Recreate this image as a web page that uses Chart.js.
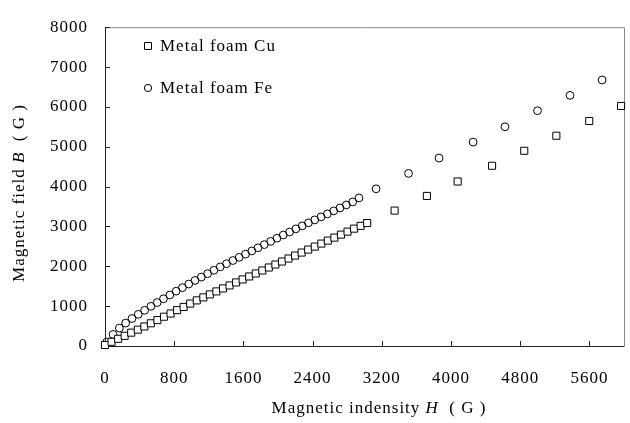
<!DOCTYPE html>
<html>
<head>
<meta charset="utf-8">
<script src="https://cdn.jsdelivr.net/npm/chart.js@4.4.0/dist/chart.umd.min.js"></script>
<style>
html,body{margin:0;padding:0;background:#fff;}
#wrap{width:630px;height:423px;}
</style>
</head>
<body>
<div id="wrap"><canvas id="c" width="630" height="423"></canvas></div>
<script>
// ---- data ----
const xTickValues = [0, 800, 1600, 2400, 3200, 4000, 4800, 5600];
const yTickValues = [0, 1000, 2000, 3000, 4000, 5000, 6000, 7000, 8000];
const seriesNames = ["Metal foam Cu", "Metal foam Fe"];

const cuH = [0, 76, 152, 227, 303, 379, 455, 530, 606, 682, 758, 834, 909, 985, 1061, 1137, 1212, 1288, 1364, 1440,
  1516, 1591, 1667, 1743, 1819, 1894, 1970, 2046, 2122, 2198, 2273, 2349, 2425, 2501, 2576, 2652, 2728, 2804, 2880, 2955, 3031,
  3348, 3721, 4077, 4475, 4847, 5218, 5598, 5966];
const cuB = [25, 105, 180, 255, 335, 410, 490, 570, 650, 735, 815, 900, 980, 1065, 1145, 1220, 1295, 1370, 1445, 1520,
  1595, 1670, 1745, 1820, 1895, 1970, 2045, 2120, 2195, 2270, 2345, 2420, 2495, 2570, 2645, 2720, 2795, 2870, 2945, 3015, 3085,
  3398, 3766, 4128, 4523, 4899, 5277, 5646, 6024];

const feH = [20, 93, 166, 239, 312, 385, 458, 531, 603, 676, 749, 822, 895, 968, 1041, 1114, 1186, 1259, 1332, 1405,
  1478, 1551, 1624, 1697, 1769, 1842, 1915, 1988, 2061, 2134, 2207, 2280, 2352, 2425, 2498, 2571, 2644, 2717, 2790, 2863, 2936,
  3134, 3509, 3862, 4256, 4624, 5000, 5376, 5747];
const feB = [100, 290, 450, 575, 690, 795, 895, 995, 1090, 1185, 1280, 1375, 1465, 1555, 1645, 1730, 1815, 1900, 1985, 2065,
  2145, 2225, 2305, 2385, 2465, 2545, 2625, 2705, 2785, 2860, 2940, 3015, 3090, 3165, 3240, 3315, 3390, 3465, 3540, 3615, 3715,
  3945, 4330, 4716, 5116, 5501, 5904, 6289, 6675];

// ---- style ----
const FONT = '"Liberation Serif", "Times New Roman", serif';
const FS = 17;

function pts(h, b) { return h.map((v, i) => ({ x: v, y: b[i] })); }

const decor = {
  id: 'decor',
  beforeInit(chart) {
    if ('letterSpacing' in chart.ctx) chart.ctx.letterSpacing = '1px';
  },
  beforeDraw(chart) {
    const ctx = chart.ctx;
    ctx.save();
    ctx.fillStyle = '#fff';
    ctx.fillRect(0, 0, chart.width, chart.height);
    ctx.restore();
    if ('letterSpacing' in ctx) ctx.letterSpacing = '1px';
  },
  beforeDatasetsDraw(chart) {
    const ctx = chart.ctx, a = chart.chartArea;
    const xs = chart.scales.x, ys = chart.scales.y;
    ctx.save();
    ctx.strokeStyle = '#8a8a8a';
    ctx.lineWidth = 1;
    ctx.beginPath();
    ctx.moveTo(a.left, a.top + 0.5); ctx.lineTo(a.right + 0.5, a.top + 0.5);
    ctx.lineTo(a.right + 0.5, a.bottom);
    ctx.stroke();
    ctx.strokeStyle = '#222';
    ctx.beginPath();
    ctx.moveTo(a.left + 0.5, a.top); ctx.lineTo(a.left + 0.5, a.bottom + 0.5);
    ctx.lineTo(a.right + 0.5, a.bottom + 0.5);
    xs.ticks.forEach(t => {
      if (t.value === 0) return;
      const px = Math.round(xs.getPixelForValue(t.value)) + 0.5;
      ctx.moveTo(px, a.bottom); ctx.lineTo(px, a.bottom - 5);
    });
    ys.ticks.forEach(t => {
      if (t.value === 0) return;
      const py = Math.round(ys.getPixelForValue(t.value)) + 0.5;
      ctx.moveTo(a.left, py); ctx.lineTo(a.left + 5, py);
    });
    ctx.stroke();
    ctx.restore();
  },
  afterDraw(chart) {
    const ctx = chart.ctx;
    ctx.save();
    ctx.fillStyle = '#000';
    ctx.textBaseline = 'middle';
    const norm = FS + 'px ' + FONT, ital = 'italic ' + FS + 'px ' + FONT;
    function drawMixed(parts, cx, cy) {
      let w = 0;
      parts.forEach(p => { ctx.font = p[1] ? ital : norm; w += ctx.measureText(p[0]).width; });
      let x = cx - w / 2;
      ctx.textAlign = 'left';
      parts.forEach(p => { ctx.font = p[1] ? ital : norm; ctx.fillText(p[0], x, cy); x += ctx.measureText(p[0]).width; });
    }
    drawMixed([["Magnetic indensity ", false], ["H", true], ["  ( G )", false]], 379, 409);
    ctx.save();
    ctx.translate(20, 193);
    ctx.rotate(-Math.PI / 2);
    drawMixed([["Magnetic field ", false], ["B", true], ["  ( G )", false]], 0, 0);
    ctx.restore();
    const ds = chart.data.datasets;
    const lx = 148, ly = [46, 88];
    ds.forEach((d, i) => {
      ctx.strokeStyle = '#000';
      ctx.fillStyle = '#fff';
      ctx.lineWidth = 1;
      ctx.beginPath();
      if (d.pointStyle === 'rect') {
        ctx.rect(lx - 3.5, ly[i] - 3.5, 7, 7);
      } else {
        ctx.arc(lx, ly[i], 3.6, 0, Math.PI * 2);
      }
      ctx.fill(); ctx.stroke();
      ctx.fillStyle = '#000';
      ctx.font = norm;
      ctx.textAlign = 'left';
      ctx.fillText(d.label, 160, ly[i] + 1);
    });
    ctx.restore();
  }
};

new Chart(document.getElementById('c'), {
  type: 'scatter',
  data: {
    datasets: [
      {
        label: seriesNames[0],
        data: pts(cuH, cuB),
        pointStyle: 'rect',
        pointRadius: 5,
        borderColor: '#000',
        backgroundColor: '#fff',
        borderWidth: 1,
        clip: false
      },
      {
        label: seriesNames[1],
        data: pts(feH, feB),
        pointStyle: 'circle',
        pointRadius: 3.9,
        borderColor: '#000',
        backgroundColor: 'rgba(255,255,255,0)',
        borderWidth: 1,
        clip: false
      }
    ]
  },
  options: {
    responsive: false,
    animation: false,
    devicePixelRatio: 1,
    layout: { padding: { top: 14, right: 3, left: 0, bottom: 0 } },
    plugins: { legend: { display: false }, tooltip: { enabled: false } },
    scales: {
      x: {
        type: 'linear',
        min: 0, max: 6000,
        afterBuildTicks: s => { s.ticks = xTickValues.map(v => ({ value: v })); },
        afterFit: s => { s.height = 77; },
        grid: { display: false, drawTicks: false },
        border: { display: false },
        ticks: { color: '#000', font: { family: FONT, size: FS }, padding: 22, maxRotation: 0, autoSkip: false,
          callback: v => String(v) }
      },
      y: {
        type: 'linear',
        min: 0, max: 8000,
        afterBuildTicks: s => { s.ticks = yTickValues.map(v => ({ value: v })); },
        afterFit: s => { s.width = 105; },
        grid: { display: false, drawTicks: false },
        border: { display: false },
        ticks: { color: '#000', font: { family: FONT, size: FS }, padding: 17, autoSkip: false,
          callback: v => String(v) }
      }
    }
  },
  plugins: [decor]
});
</script>
</body>
</html>
